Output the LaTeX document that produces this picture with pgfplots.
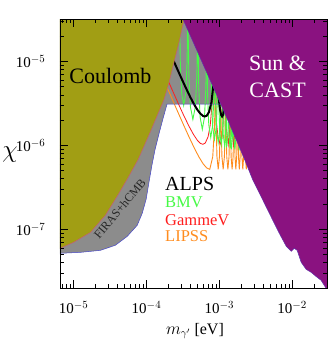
\documentclass[border=0pt]{standalone}
\usepackage{fontspec}
\setmainfont{Liberation Serif}
\usepackage{pgfplots}
\pgfplotsset{compat=1.18}
\definecolor{olivef}{RGB}{161,158,20}
\definecolor{purp}{RGB}{138,18,128}
\definecolor{greyf}{RGB}{140,140,140}
\definecolor{bmv}{RGB}{70,250,70}
\definecolor{gam}{RGB}{255,30,30}
\definecolor{lip}{RGB}{255,140,30}
\definecolor{bline}{RGB}{70,70,200}
\definecolor{pline}{RGB}{200,90,120}
\begin{document}
\begin{tikzpicture}
\begin{axis}[
 at={(0pt,0pt)}, anchor=south west,
 scale only axis, width=267pt, height=269pt,
 xmode=log, ymode=log,
 xmin=6.5e-6, xmax=3e-2, ymin=2e-8, ymax=3.2e-5,
 xtick={1e-5,1e-4,1e-3,1e-2},
 xticklabels={10$^{-5}$,10$^{-4}$,10$^{-3}$,10$^{-2}$},
 ytick={1e-7,1e-6,1e-5},
 yticklabels={10$^{-7}$,10$^{-6}$,10$^{-5}$},
 minor xtick={7e-6,8e-6,9e-6,2e-5,3e-5,4e-5,5e-5,6e-5,7e-5,8e-5,9e-5,2e-4,3e-4,4e-4,5e-4,6e-4,7e-4,8e-4,9e-4,2e-3,3e-3,4e-3,5e-3,6e-3,7e-3,8e-3,9e-3,2e-2,3e-2},
 minor ytick={3e-8,4e-8,5e-8,6e-8,7e-8,8e-8,9e-8,2e-7,3e-7,4e-7,5e-7,6e-7,7e-7,8e-7,9e-7,2e-6,3e-6,4e-6,5e-6,6e-6,7e-6,8e-6,9e-6,2e-5,3e-5},
 tick align=inside,
 major tick length=8pt, minor tick length=4pt,
 tick style={black, line width=0.6pt},
 axis line style={line width=0.8pt},
 tick label style={font=\fontsize{15}{15}\selectfont},
 xticklabel style={yshift=-10pt},
 yticklabel style={xshift=-11pt},
 axis on top,
]
% FIRAS+hCMB grey region (and combined region above the white window)
\addplot[fill=greyf, draw=none] coordinates {
(6.5e-6,5.18e-8) (1.245e-5,5.32e-8) (2.33e-5,5.62e-8) (3.74e-5,6.46e-8) (5.45e-5,8.26e-8)
(7.46e-5,1.117e-7) (8.73e-5,1.55e-7) (9.89e-5,2.28e-7) (1.086e-4,3.72e-7) (1.194e-4,5.94e-7)
(1.312e-4,8.96e-7) (1.489e-4,1.39e-6) (1.687e-4,2.09e-6) (1.914e-4,3.1e-6) (3e-2,3.1e-6)
(3e-2,3.2e-5) (6.5e-6,3.2e-5) (6.5e-6,5.18e-8)};
% LIPSS
\addplot[lip, line width=0.9pt] coordinates {
(1.854e-4,5.24e-6) (2.0e-4,4.505e-6) (2.3e-4,3.41e-6) (2.7e-4,2.484e-6) (3.2e-4,1.782e-6) (3.8e-4,1.282e-6) (4.5e-4,9.40e-7) (5.2e-4,7.37e-7) (6.0e-4,6.01e-7) (6.7e-4,5.39e-7) (7.384e-4,5.18e-7) (8.113e-4,7.32e-7) (8.587e-4,1.678e-6) (8.817e-4,5.49e-6) (8.915e-4,1e-4)
(8.955e-4,5.49e-6) (9.054e-4,1.678e-6) (9.27e-4,7.32e-7) (9.643e-4,5.18e-7) (1.0028e-3,7.32e-7) (1.0266e-3,1.678e-6) (1.038e-3,5.49e-6) (1.043e-3,1e-4)
(1.048e-3,5.49e-6) (1.0595e-3,1.678e-6) (1.085e-3,7.32e-7) (1.128e-3,5.18e-7) (1.173e-3,7.32e-7) (1.201e-3,1.678e-6) (1.214e-3,5.49e-6) (1.220e-3,1e-4)
(1.225e-3,5.49e-6) (1.237e-3,1.678e-6) (1.263e-3,7.32e-7) (1.309e-3,5.18e-7) (1.357e-3,7.32e-7) (1.386e-3,1.678e-6) (1.399e-3,5.49e-6) (1.406e-3,1e-4)
(1.411e-3,5.49e-6) (1.424e-3,1.678e-6) (1.450e-3,7.32e-7) (1.496e-3,5.18e-7) (1.544e-3,7.32e-7) (1.574e-3,1.678e-6) (1.588e-3,5.49e-6) (1.594e-3,1e-4)
(1.599e-3,5.49e-6) (1.612e-3,1.678e-6) (1.640e-3,7.32e-7) (1.683e-3,5.18e-7) (1.729e-3,7.32e-7) (1.759e-3,1.678e-6) (1.773e-3,5.49e-6) (1.779e-3,1e-4)
(1.785e-3,5.49e-6) (1.799e-3,1.678e-6) (1.830e-3,7.32e-7) (1.879e-3,5.18e-7) (1.930e-3,7.32e-7) (1.963e-3,1.678e-6) (1.978e-3,5.49e-6) (1.985e-3,1e-4)
(1.991e-3,5.49e-6) (2.007e-3,1.678e-6) (2.042e-3,7.32e-7) (2.097e-3,5.18e-7) (2.154e-3,7.32e-7) (2.191e-3,1.678e-6) (2.208e-3,5.49e-6) (2.216e-3,1e-4)
(2.223e-3,5.49e-6) (2.241e-3,1.678e-6) (2.280e-3,7.32e-7) (2.342e-3,5.18e-7) (2.405e-3,7.32e-7) (2.447e-3,1.678e-6) (2.466e-3,5.49e-6) (2.474e-3,1e-4)};
% GammeV
\addplot[gam, line width=0.8pt] coordinates {
(2.0e-4,5.79e-6) (2.3e-4,4.40e-6) (2.7e-4,3.22e-6) (3.2e-4,2.33e-6) (3.8e-4,1.714e-6) (4.4e-4,1.354e-6) (5.0e-4,1.146e-6) (5.5e-4,1.055e-6) (5.93e-4,1.03e-6) (6.4e-4,1.065e-6) (7.0e-4,1.263e-6) (7.5e-4,1.75e-6) (7.9e-4,2.98e-6) (8.2e-4,7.5e-6) (8.33e-4,2.46e-5) (8.386e-4,1e-4) (8.44e-4,2.54e-5) (8.7e-4,4.35e-6) (9.1e-4,1.944e-6) (9.6e-4,1.245e-6) (1.027e-3,1.03e-6) (1.08e-3,1.171e-6) (1.13e-3,1.87e-6) (1.16e-3,3.86e-6) (1.186e-3,1e-4) (1.21e-3,4.06e-6) (1.25e-3,1.60e-6) (1.326e-3,1.03e-6) (1.40e-3,1.67e-6) (1.43e-3,3.66e-6) (1.4525e-3,1e-4) (1.475e-3,3.65e-6) (1.52e-3,1.32e-6) (1.569e-3,1.03e-6) (1.62e-3,1.38e-6) (1.66e-3,4.05e-6) (1.677e-3,1e-4)};
% BMV
\addplot[bmv, line width=0.9pt] coordinates {
(2.834e-4,1e-4) (2.857e-4,3.18e-5) (2.911e-4,9.72e-6) (3.030e-4,4.24e-6) (3.238e-4,3.0e-6) (3.463e-4,4.24e-6) (3.603e-4,9.72e-6) (3.672e-4,3.18e-5) (3.700e-4,1e-4)
(3.735e-4,2.16e-5) (3.819e-4,6.61e-6) (4.003e-4,2.88e-6) (4.330e-4,2.04e-6) (4.683e-4,2.88e-6) (4.909e-4,6.61e-6) (5.018e-4,2.16e-5) (5.066e-4,1e-4)
(5.109e-4,1.643e-5) (5.211e-4,5.02e-6) (5.437e-4,2.19e-6) (5.834e-4,1.55e-6) (6.262e-4,2.19e-6) (6.533e-4,5.02e-6) (6.664e-4,1.643e-5) (6.720e-4,1e-4)
(6.772e-4,1.32e-5) (6.892e-4,4.03e-6) (7.156e-4,1.76e-6) (7.619e-4,1.245e-6) (8.113e-4,1.76e-6) (8.424e-4,4.03e-6) (8.575e-4,1.32e-5) (8.639e-4,1e-4)
(8.697e-4,1.151e-5) (8.831e-4,3.52e-6) (9.128e-4,1.536e-6) (9.643e-4,1.086e-6) (1.0186e-3,1.536e-6) (1.053e-3,3.52e-6) (1.069e-3,1.151e-5) (1.076e-3,1e-4)
(1.082e-3,1.031e-5) (1.096e-3,3.15e-6) (1.128e-3,1.376e-6) (1.182e-3,9.73e-7) (1.240e-3,1.376e-6) (1.275e-3,3.15e-6) (1.291e-3,1.031e-5) (1.299e-3,1e-4)
(1.305e-3,9.76e-6) (1.319e-3,2.98e-6) (1.351e-3,1.302e-6) (1.406e-3,9.21e-7) (1.462e-3,1.302e-6) (1.496e-3,2.98e-6) (1.513e-3,9.76e-6) (1.520e-3,1e-4)
(1.527e-3,9.5e-6) (1.542e-3,2.90e-6) (1.574e-3,1.267e-6) (1.632e-3,8.96e-7) (1.691e-3,1.267e-6) (1.726e-3,2.90e-6) (1.743e-3,9.5e-6) (1.751e-3,1e-4)
(1.758e-3,9.24e-6) (1.773e-3,2.83e-6) (1.807e-3,1.233e-6) (1.865e-3,8.72e-7) (1.924e-3,1.233e-6) (1.960e-3,2.83e-6) (1.977e-3,9.24e-6) (1.985e-3,1e-4)};
\addplot[bmv, line width=0.9pt] coordinates {
(7.619e-4,1e-4) (7.674e-4,1.25e-5) (7.799e-4,3.82e-6) (8.083e-4,1.667e-6) (8.570e-4,1.179e-6) (9.094e-4,1.667e-6) (9.416e-4,3.82e-6) (9.573e-4,1.25e-5) (9.643e-4,1e-4)
(9.696e-4,1.09e-5) (9.824e-4,3.33e-6) (1.0107e-3,1.454e-6) (1.0595e-3,1.028e-6) (1.110e-3,1.454e-6) (1.142e-3,3.33e-6) (1.157e-3,1.09e-5) (1.164e-3,1e-4)
(1.170e-3,1.004e-5) (1.182e-3,3.07e-6) (1.211e-3,1.339e-6) (1.259e-3,9.47e-7) (1.309e-3,1.339e-6) (1.341e-3,3.07e-6) (1.355e-3,1.004e-5) (1.362e-3,1e-4)
(1.368e-3,9.5e-6) (1.381e-3,2.90e-6) (1.409e-3,1.267e-6) (1.462e-3,8.96e-7) (1.515e-3,1.267e-6) (1.547e-3,2.90e-6) (1.562e-3,9.5e-6) (1.569e-3,1e-4)};
% ALPS
\addplot[black, line width=2pt] coordinates {
(2.3e-4,1.067e-5) (2.6e-4,8.38e-6) (3.0e-4,6.36e-6) (3.5e-4,4.76e-6) (4.0e-4,3.74e-6) (4.5e-4,3.08e-6) (5.0e-4,2.65e-6) (5.5e-4,2.38e-6) (6.0e-4,2.235e-6) (6.31e-4,2.21e-6) (6.7e-4,2.255e-6) (7.2e-4,2.486e-6) (7.8e-4,3.27e-6) (8.3e-4,5.37e-6) (8.6e-4,9.96e-6) (8.8e-4,2.55e-5) (8.92e-4,1e-4) (9.0e-4,4.1e-5) (9.1e-4,1.77e-5) (9.4e-4,6.52e-6) (9.8e-4,3.65e-6) (1.02e-3,2.69e-6) (1.06e-3,2.30e-6) (1.09e-3,2.21e-6) (1.13e-3,2.33e-6) (1.2e-3,3.87e-6)};
% boundary of FIRAS region and the allowed window
\addplot[bline, line width=0.5pt] coordinates {
(6.5e-6,5.18e-8) (1.245e-5,5.32e-8) (2.33e-5,5.62e-8) (3.74e-5,6.46e-8) (5.45e-5,8.26e-8)
(7.46e-5,1.117e-7) (8.73e-5,1.55e-7) (9.89e-5,2.28e-7) (1.086e-4,3.72e-7) (1.194e-4,5.94e-7)
(1.312e-4,8.96e-7) (1.489e-4,1.39e-6) (1.687e-4,2.09e-6) (1.914e-4,3.1e-6) (1.057e-3,3.1e-6)};
% Coulomb
\addplot[fill=olivef, draw=none] coordinates {
(6.5e-6,3.2e-5) (6.5e-6,5.94e-8) (1e-5,7.0e-8) (1.706e-5,9.2e-8) (2.73e-5,1.47e-7) (4.11e-5,2.61e-7)
(5.62e-5,4.16e-7) (7.70e-5,6.81e-7) (1.122e-4,1.43e-6) (1.742e-4,3.53e-6) (2.04e-4,5.62e-6)
(2.38e-4,9.73e-6) (2.79e-4,1.68e-5) (3.16e-4,2.75e-5) (3.32e-4,3.2e-5) (6.5e-6,3.2e-5)};
\addplot[pline, line width=0.5pt] coordinates {
(6.5e-6,5.94e-8) (1e-5,7.0e-8) (1.706e-5,9.2e-8) (2.73e-5,1.47e-7) (4.11e-5,2.61e-7)
(5.62e-5,4.16e-7) (7.70e-5,6.81e-7) (1.122e-4,1.43e-6) (1.742e-4,3.53e-6) (2.04e-4,5.62e-6)
(2.38e-4,9.73e-6) (2.79e-4,1.68e-5) (3.16e-4,2.75e-5) (3.32e-4,3.2e-5)};
% Sun & CAST
\addplot[fill=purp, draw=bline!60!purp, line width=0.5pt] coordinates {
(3.16e-4,3.2e-5) (9.79e-4,3.53e-6) (1.384e-3,1.778e-6) (2.218e-3,6.81e-7) (2.85e-3,3.94e-7)
(3.9e-3,2.28e-7) (5.33e-3,1.315e-7) (6.65e-3,8.96e-8) (8.28e-3,6.28e-8) (9.68e-3,5.47e-8)
(1.064e-2,5.94e-8) (1.17e-2,5.62e-8) (1.327e-2,4.05e-8) (1.552e-2,3.34e-8) (1.816e-2,3.08e-8)
(2.12e-2,2.75e-8) (2.49e-2,2.47e-8) (2.9e-2,2e-8) (3.2e-2,2e-8) (3.2e-2,3.4e-5) (3.16e-4,3.4e-5) (3.16e-4,3.2e-5)};
% labels
\node[font=\fontsize{22}{22}\selectfont] at (axis cs:3.2e-5,6.63e-6) {Coulomb};
\node[font=\fontsize{22}{27}\selectfont, text=white, align=center] at (axis cs:6.3e-3,6.5e-6) {Sun \&\\CAST};
\node[anchor=west, inner sep=0pt, font=\fontsize{20}{20}\selectfont] at (axis cs:1.797e-4,3.435e-7) {ALPS};
\node[anchor=west, inner sep=0pt, font=\fontsize{16.5}{16.5}\selectfont, text=bmv] at (axis cs:1.797e-4,2.095e-7) {BMV};
\node[anchor=west, inner sep=0pt, font=\fontsize{16.5}{16.5}\selectfont, text=gam] at (axis cs:1.797e-4,1.28e-7) {GammeV};
\node[anchor=west, inner sep=0pt, font=\fontsize{16.5}{16.5}\selectfont, text=lip] at (axis cs:1.797e-4,8.26e-8) {LIPSS};
\node[rotate=50, font=\fontsize{12}{12}\selectfont, text=black!85] at (axis cs:4.3e-5,1.75e-7) {FIRAS+hCMB};
\end{axis}
\node[font=\fontsize{16}{16}\selectfont] at (135pt,-43pt) {$m_{\gamma'}$ [eV]};
\node[font=\fontsize{24}{24}\selectfont] at (-50pt,133pt) {$\chi$};
\pgfresetboundingbox
\path (-60pt,-52pt) rectangle (272pt,288pt);
\end{tikzpicture}
\end{document}
